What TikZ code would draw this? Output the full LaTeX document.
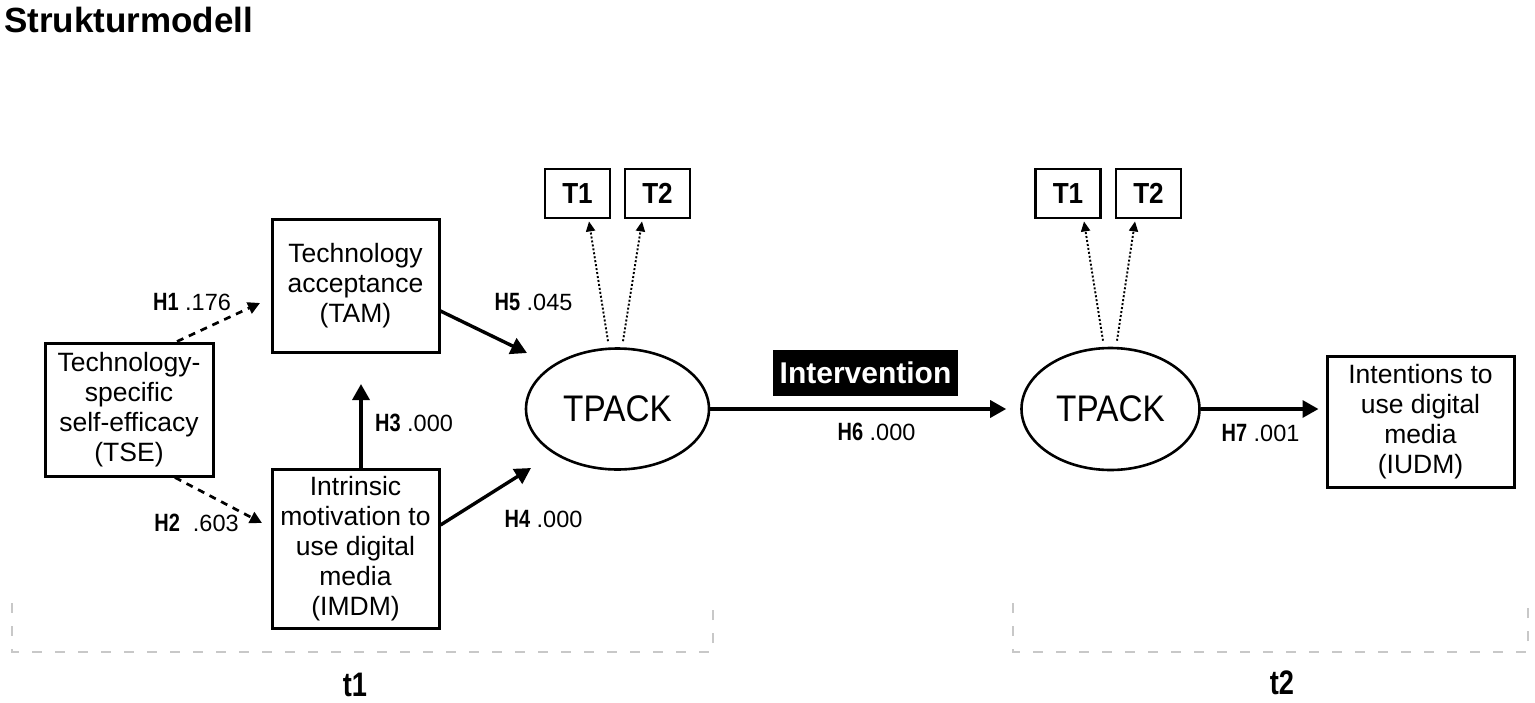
\documentclass[tikz,border=0pt]{standalone}
\usepackage{fontspec}
\setmainfont{Liberation Sans}
\newfontfamily\condfont[FakeStretch=0.8]{Liberation Sans}
\newfontfamily\tallfont[FakeStretch=0.9]{Liberation Sans}
\usetikzlibrary{arrows.meta,shapes.geometric}
\definecolor{brk}{RGB}{200,200,200}
\newcommand{\hlab}[1]{{\condfont\bfseries\fontsize{25pt}{26pt}\selectfont #1}}
\begin{document}
\begin{tikzpicture}[x=1pt,y=-1pt,
  box/.style={draw, line width=3pt, inner sep=0pt, align=center,
    font=\fontsize{26.5pt}{30pt}\selectfont},
  lat/.style={draw, ellipse, line width=2.6pt, inner sep=0pt,
    font=\tallfont\fontsize{37pt}{39pt}\selectfont},
  ind/.style={draw, line width=2.8pt, inner sep=0pt, minimum width=65pt, minimum height=49pt,
    font=\tallfont\bfseries\fontsize{29pt}{31pt}\selectfont},
  lab/.style={inner sep=0pt, font=\fontsize{23.5pt}{26pt}\selectfont},
  tlab/.style={inner sep=0pt, font=\condfont\bfseries\fontsize{34pt}{36pt}\selectfont},
  solidarrow/.style={line width=3.4pt, -{Triangle[length=16pt,width=17pt]}},
  dasharrow/.style={line width=2.7pt, dash pattern=on 7pt off 6pt, -{Triangle[length=12pt,width=12pt]}},
  dotarrow/.style={line width=1.9pt, dash pattern=on 2pt off 2pt, -{Triangle[length=10pt,width=9pt]}},
  bracket/.style={draw=brk, line width=2pt, dash pattern=on 10pt off 13pt}
]
\useasboundingbox (0,0) rectangle (1535,702);

% title
\node[anchor=base west, inner sep=0pt, font=\bfseries\fontsize{35pt}{40pt}\selectfont] (title) at (4,32) {Strukturmodell};

% constructs
\node[box, minimum width=168pt, minimum height=133pt] (tse) at (129,409.5) {Technology-\\specific\\self-efficacy\\(TSE)};
\node[box, minimum width=167pt, minimum height=133pt] (tam) at (355.5,285.5) {Technology\\acceptance\\(TAM)};
\node[box, minimum width=167pt, minimum height=159pt] (imdm) at (355.5,548.5) {Intrinsic\\motivation to\\use digital\\media\\(IMDM)};
\node[lat, minimum width=183pt, minimum height=121pt] (tp1) at (617.5,409) {TPACK};
\node[ind] (t1a) at (577.5,193.5) {T1};
\node[ind] (t2a) at (657.5,193.5) {T2};
\node[lat, minimum width=178pt, minimum height=122pt] (tp2) at (1110.5,409) {TPACK};
\node[ind] (t1b) at (1068,193.5) {T1};
\node[ind] (t2b) at (1148.5,193.5) {T2};
\node[box, minimum width=187pt, minimum height=131pt] (iudm) at (1420.5,421.5) {Intentions to\\use digital\\media\\(IUDM)};
\node[fill=black, text=white, inner sep=0pt, minimum width=185pt, minimum height=46pt,
  font=\bfseries\fontsize{30pt}{32pt}\selectfont] (interv) at (865.5,373) {Intervention};

% free arrow ends
\coordinate (h1e) at (260,303);
\coordinate (h2e) at (262,523);
\coordinate (h3e) at (361,384);
\coordinate (h4e) at (531,468);
\coordinate (h5e) at (527,353);

% paths
\draw[dasharrow] ([xshift=48pt]tse.north) -- (h1e);
\draw[dasharrow] ([xshift=46pt]tse.south) -- (h2e);
\draw[solidarrow] ([xshift=5.5pt]imdm.north) -- (h3e);
\draw[solidarrow] ([yshift=23.5pt]imdm.east) -- (h4e);
\draw[solidarrow] ([yshift=-25.5pt]tam.east) -- (h5e);
\draw[solidarrow, shorten >=14pt] (tp1) -- (tp2);
\draw[solidarrow, shorten >=7pt] (tp2.east) -- (tp2.east -| iudm.west);

% indicators
\draw[dotarrow] ([xshift=-9.5pt,yshift=6pt]tp1.north) -- ([xshift=11.5pt,yshift=-2pt]t1a.south);
\draw[dotarrow] ([xshift=5.5pt,yshift=6pt]tp1.north) -- ([xshift=-15.5pt,yshift=-2pt]t2a.south);
\draw[dotarrow] ([xshift=-7.5pt,yshift=6pt]tp2.north) -- ([xshift=16pt,yshift=-2pt]t1b.south);
\draw[dotarrow] ([xshift=6.5pt,yshift=6pt]tp2.north) -- ([xshift=-13.5pt,yshift=-2pt]t2b.south);

% path labels
\node[lab] (l1) at (192,302) {\hlab{H1} .176};
\node[lab] (l2) at (196.5,523) {\hlab{H2}\ \ .603};
\node[lab] (l3) at (414,423) {\hlab{H3}\ .000};
\node[lab] (l4) at (543.5,519) {\hlab{H4}\ .000};
\node[lab] (l5) at (533.5,302) {\hlab{H5} .045};
\node[lab] (l6) at (876.5,432) {\hlab{H6}\ .000};
\node[lab] (l7) at (1260.5,433) {\hlab{H7} .001};

% time brackets
\draw[bracket] (12,603) -- (12,652) -- (713,652) -- (713,603);
\draw[bracket] (1013,603) -- (1013,652) -- (1528,652) -- (1528,603);
\node[tlab] (tt1) at (355,685) {t1};
\node[tlab] (tt2) at (1282,683) {t2};
\end{tikzpicture}
\end{document}
